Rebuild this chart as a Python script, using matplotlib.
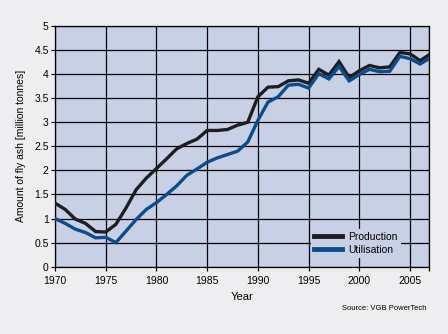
import matplotlib
matplotlib.use("Agg")
import matplotlib.pyplot as plt
from matplotlib.ticker import FuncFormatter

plt.rcParams["font.family"] = ["Liberation Sans", "DejaVu Sans"]

# Fly ash production and utilisation, million tonnes per year
years = list(range(1970, 2008))
production = [1.32, 1.19, 0.99, 0.90, 0.73, 0.72, 0.88, 1.22, 1.60, 1.84,
              2.04, 2.24, 2.45, 2.56, 2.65, 2.83, 2.83, 2.85, 2.94, 3.00,
              3.53, 3.73, 3.74, 3.86, 3.88, 3.81, 4.10, 3.98, 4.26, 3.93,
              4.07, 4.18, 4.13, 4.15, 4.45, 4.42, 4.28, 4.42]
utilisation = [1.00, 0.90, 0.78, 0.71, 0.60, 0.61, 0.50, 0.74, 0.98, 1.19,
               1.33, 1.50, 1.68, 1.90, 2.03, 2.17, 2.26, 2.33, 2.40, 2.59,
               3.04, 3.42, 3.53, 3.77, 3.79, 3.71, 4.01, 3.90, 4.16, 3.86,
               3.99, 4.10, 4.05, 4.06, 4.37, 4.32, 4.21, 4.34]
x_ticks = [1970, 1975, 1980, 1985, 1990, 1995, 2000, 2005]
y_ticks = [0, 0.5, 1, 1.5, 2, 2.5, 3, 3.5, 4, 4.5, 5]

bg = "#eeeef0"
face = "#c8d0e6"

fig = plt.figure(figsize=(4.48, 3.34), dpi=100, facecolor=bg)
ax = fig.add_axes([0.1228, 0.2015, 0.8355, 0.7207], facecolor=face)

ax.plot(years, production, color="#1e1e22", lw=2.4, label="Production",
        solid_joinstyle="miter", zorder=3)
ax.plot(years, utilisation, color="#0b4d8c", lw=2.4, label="Utilisation",
        solid_joinstyle="miter", zorder=4)

ax.set_xlim(1970, 2006.9)
ax.set_ylim(0, 5)
ax.set_xticks(x_ticks)
ax.set_xticks([2006.9], minor=True)
ax.set_yticks(y_ticks)
ax.yaxis.set_major_formatter(FuncFormatter(lambda v, p: "%g" % v))

ax.grid(True, which="both", color="black", lw=0.9)
ax.set_axisbelow(True)
ax.tick_params(which="both", direction="out", length=3, width=0.9,
               labelsize=7.5, pad=1.5, colors="black")
ax.tick_params(axis="x", pad=4)
for s in ax.spines.values():
    s.set_color("black")
    s.set_linewidth(0.9)

ax.set_xlabel("Year", fontsize=8, labelpad=4)
ax.set_ylabel("Amount of fly ash [million tonnes]", fontsize=7.5, labelpad=6)

leg = ax.legend(loc="lower left", bbox_to_anchor=(0.684, 0.036),
                borderaxespad=0, fontsize=7.5, handlelength=2.7,
                handletextpad=0.6, labelspacing=0.3, borderpad=0.3,
                frameon=True, facecolor=face, edgecolor="none",
                framealpha=1, fancybox=False)
for h in leg.get_lines():
    h.set_linewidth(3.5)
leg.set_zorder(5)

fig.text(0.951, 0.077, "Source: VGB PowerTech", fontsize=5.5,
         ha="right", va="center")

fig.savefig("out.png", dpi=100, facecolor=bg)
